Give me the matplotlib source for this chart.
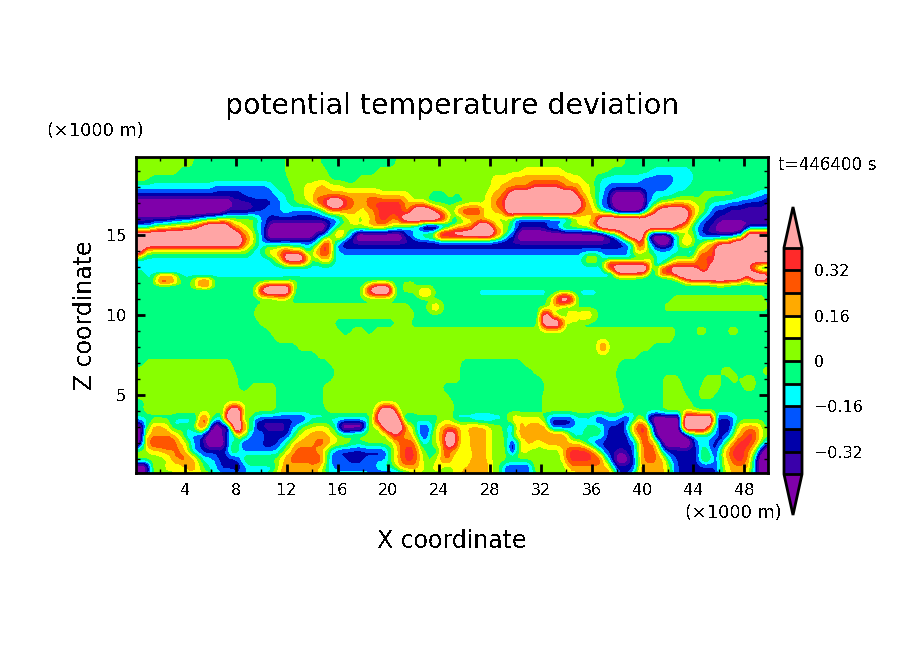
import numpy as np
import matplotlib
matplotlib.use("Agg")
import matplotlib.pyplot as plt

plt.rcParams['font.family'] = ['DejaVu Sans']
plt.rcParams['text.antialiased'] = False

LEVELS = [-0.40, -0.32, -0.24, -0.16, -0.08, 0.0, 0.08, 0.16, 0.24, 0.32, 0.40]
COLORS = ['#7f00aa', '#3a00aa', '#0000aa', '#0055ff', '#00ffff', '#00ff80',
          '#88ff00', '#ffff00', '#ffaa00', '#ff5500', '#ff2a2a', '#ffa5a5']
BAND_VALUE = dict(a=-0.58, b=-0.36, c=-0.28, d=-0.20, e=-0.12, f=-0.04,
                  g=0.04, h=0.12, i=0.20, j=0.28, k=0.36, l=0.62)
CBAR_TICKS = [-0.32, -0.16, 0, 0.16, 0.32]
CBAR_LABELS = ['\u22120.32', '\u22120.16', '0', '0.16', '0.32']
X_TICKS = list(range(4, 49, 4))
Z_TICKS = [5, 10, 15]

ROWS = [
 (20.0, "g4.6 f11.9 g14.6 f20.7 g38.7 f50"),
 (19.5, "g4.6 f11.9 g14.6 f20.7 g38.7 f50"),
 (19.0, "g3.3 f11.9 g15 f19.2 g30.5 h33.5 g37.3 f40.5 e43.8 f50"),
 (18.5, "g1.2 f12 g15.4 f17.5 g28.2 h29.5 i34 h35.2 g36.2 f36.6 e39.9 d42.5 e44 f50"),
 (18.0, "e6 d10.5 e11.2 f12.3 g13.3 h14.3 i15 h16.3 g28 h28.8 i31 k33.6 i35 h35.8 g36.2 f36.6 e37 d42 e43.5 f50"),
 (17.5, "c8.5 d11 e11.8 f12.5 g13.4 h14 i19 h21.5 g23 f24.7 g25 f25.7 g27.5 h28 i29.2 k29.7 l34.5 k34.9 i35.4 h35.8 g36.2 f36.5 e36.8 d37.2 c37.6 a40 c40.2 d40.8 e42.5 f44.5 g47.3 f48.5 e49.3 d50"),
 (17.0, "a7.5 b9.4 c10.8 d11.5 e12 f12.5 g13.6 h14 i14.4 k15 l16.4 k17 i18.3 k21 i21.5 h22.8 g23.2 f26 g27.5 h28 i28.7 k29.3 l35 k35.4 i35.8 h36 g36.4 e36.7 d37.1 c37.7 a40 c40.3 d40.7 e41 f41.4 g42 h44.2 g44.8 f45.4 e46.7 d47.8 c49.6 b50"),
 (16.5, "a7 b9.4 c10 d11.4 e12.3 d14.4 e14.8 g15 h15.3 i17.5 h18.3 i19 k21 i21.8 l23.3 k23.8 i24.3 h24.6 g25 i25.7 k27.3 h28 i29 k29.4 l34.5 k35 i36.2 h36.4 g36.6 e36.8 d37.3 c37.8 a39.8 c40.2 d40.4 e40.6 h40.9 k41.3 l43.3 k43.9 i44.2 h44.5 g44.8 f45 e45.3 d45.6 c46.5 b50"),
 (16.0, "b3 c4.6 d5.4 e6 f6.6 g9.6 e10.1 d10.4 c15.7 d16 e16.3 f16.6 g16.9 h17.3 g18 h18.5 i19 k20 i20.6 k21 l24.2 k24.5 i24.7 h24.9 f25.2 e25.5 f25.7 g26 h27.5 g29.5 e29.8 d30 c34 d34.3 e34.6 g35 h36 i36.3 k36.6 l39.8 k40 l43.3 k43.6 i43.9 h44.2 g44.4 e44.7 d45 c45.9 b50"),
 (15.5, "d1 e1.5 g2.5 h3.5 i4.5 k5.4 l7.3 k7.6 i8 h8.5 g9.4 e9.8 d10.1 c10.6 a15 c15.4 d15.8 e16.1 g17 h18.3 i19.5 h20 g20.6 f21.2 e21.6 d22 c22.5 a24 c24.6 e25 h26 i26.8 l28 i28.6 h29 g29.6 e30 d30.2 c32.4 d32.7 e33.5 h35.5 i36 k36.6 l42.4 k42.8 i43.2 h43.5 g43.8 e44.2 d44.5 c45 b45.8 a48 b50"),
 (15.0, "l8.2 k8.5 i9 h9.3 g9.6 e10 d10.2 c10.4 a14.2 c14.9 d15.1 e15.3 g15.6 h15.9 i16.1 k16.4 h16.7 e17 c17.4 a21.2 c21.5 d21.8 e22.1 g22.8 h23.4 i23.8 l28.2 k28.5 i28.8 h29 g29.2 e29.5 c30 a37.2 c37.5 d37.8 e38 g38.2 h38.4 i38.6 k38.8 l40 k40.1 e40.3 c40.5 a42 c42.3 d42.5 e42.8 g43.5 h43.8 g44 e44.4 d44.6 c45 b47 c47.5 d47.7 e48 h48.2 l50"),
 (14.5, "l8.3 k8.6 i9 h9.3 g9.6 e10 d14 e14.5 h14.8 k15.3 h15.6 e16 c16.4 b38.4 c38.7 d39 e39.3 h39.6 k40.2 h40.4 e40.6 c41 a42 c42.5 g43 i43.8 g44.2 e44.6 h45.3 i45.8 k47 l50"),
 (14.0, "l0.5 h1 g9 e10 g10.2 h10.7 i11.5 k12.2 i13 h13.3 e13.8 h14.4 k15.4 h15.7 e16.1 d39 h39.5 i40 g40.5 e43.5 d44 h44.7 i45.4 k45.8 l50"),
 (13.5, "e10.8 g11.2 h11.5 k11.9 l13.3 k13.6 h14 e14.4 h14.8 i15.3 h15.7 e35.3 h36.5 e40.4 h40.9 e42.3 g44 h44.3 k45.5 i45.9 l50"),
 (13.0, "e36.8 h37 l40.4 h40.8 e41.5 h42 k44.5 i45.3 l48 k48.3 h48.8 g49.2 f50"),
 (12.75, "e37.5 h37.9 l40.4 h40.7 e41 l44 k44.5 h45 l48.5 k48.8 h49.2 f50"),
 (12.5, "e0.1 h0.6 e37.8 h39.5 g40 e41.5 h42.5 l48 k48.5 l49.8 k50"),
 (12.25, "f1.6 k1.8 l3.1 k3.3 h3.5 f43 k43.5 l47.5 k47.8 h48.3 k48.7 l49.8 k50"),
 (12.0, "f1.8 g2.5 f4.6 k5 l5.8 k6 f12.2 h12.7 f45.5 h46.5 f50"),
 (11.75, "f9.6 h9.8 k10.3 l12 k12.4 h12.6 f18 h18.4 k18.8 l20 k20.2 h20.4 f21.3 k21.6 h22 f50"),
 (11.5, "f9.7 k10.2 l12.2 k12.4 f17.8 h18 k18.6 l20 k20.3 h20.4 f22 h22.5 k23 h23.5 f26.8 e36.7 f50"),
 (11.0, "f11.2 g12 f32.7 h33 k33.3 l34.3 k34.6 h34.9 f42.3 g49.6 f50"),
 (10.5, "f9.5 g21.5 f23.2 h23.7 i24 f32.6 h33.5 f41.7 g49.8 f50"),
 (10.0, "f9.3 g22 f31.8 h32.1 l32.6 h33 f33.8 h34.3 k34.6 h35.4 k35.7 h36.3 f50"),
 (9.5, "f9.8 g15.5 f20.5 g21.5 f31.8 h32 l33.6 h34 g35 f50"),
 (9.0, "f10.5 g16.2 f17 g18.2 f18.8 g42.5 f44 g45 f46.5 g47.5 f50"),
 (8.5, "f11 g42.3 f50"),
 (8.0, "f12.8 g36.6 k37.1 g40.5 f50"),
 (7.5, "f14.4 g39.6 f50"),
 (7.0, "f0.8 g7.5 f15.4 g25.6 f30.5 g38.2 f50"),
 (6.5, "g7.8 f15.9 g25.6 f31.3 g37.8 f46.2 g47 f49.4 g50"),
 (6.0, "g1.2 f1.7 g2.6 f3 g3.8 f4.4 g5.3 f5.6 g8 f15.7 g25.5 f32 g37.9 f41.5 g42.8 f44.8 g46.2 f46.8 g47.6 f47.9 g48.9 f50"),
 (5.5, "g8.2 f9.2 g11 f14.8 g24 f25 g25.2 f32.3 g38 f41.5 g43 f44.6 g46.2 f47.8 g48.8 f50"),
 (5.0, "g11.2 f14.8 g24.6 f32.2 g38.2 f41.5 g43.3 f44.4 g45.5 f50"),
 (4.5, "f0.8 g11.2 f14.9 g25 f32.2 g38.4 f41.5 g43.8 f50"),
 (4.0, "f0.5 g7.2 h7.4 l8.4 h8.6 g11 f15 g19 k19.3 l20.3 k20.6 g25 f32 g38.6 f41.5 g44 f50"),
 (3.5, "e1 f3 e5 h5.2 k5.6 h6 e7 l8.4 e8.8 i9 e9.4 d9.8 c13.5 e18.5 h18.7 i19.2 l20.8 h21 e22 f24 g25 e26.5 d28 e29 g29.5 i30 h32 e32.5 c34.5 e36 c37 e38 c39 e39.5 h40 c40.5 a43 l45.7 c47 e47.5 f50"),
 (3.0, "a0.7 e1 h1.3 i2.3 h2.8 e3.3 f4.5 h5 k5.6 e6 a6.8 e7 a7.5 l8.5 c8.8 k9.1 e9.3 c9.8 b12 d12.5 e13 g14 h15 g15.5 e16 a18 e18.4 g19 h19.5 l21 i21.5 h21.8 g22 e22.4 c22.8 e23 c23.4 e23.7 h24.2 i25.6 h26 i27.5 h28 g29 e29.5 c29.8 e30 k30.3 h30.8 i32.3 h32.6 c34 d34.6 e35.5 f36.5 e37 c38.5 d38.8 h39.4 k40.3 h40.6 c41 a42.8 c43.2 l45.2 h45.5 e45.8 c47 e47.4 h47.8 i49 h49.4 g49.7 f50"),
 (2.5, "a0.7 g1 h1.2 i3 h3.5 g3.9 e4.2 d5 c5.7 a7 e7.2 h7.4 c7.8 g8 h8.6 f9 c9.5 e10 c12 d12.3 e12.6 g13 h13.5 i15 h15.7 g16.2 f17 g20 k20.8 i21.7 h22.1 e22.5 c23 e23.3 g23.7 h24 i24.3 k24.7 l25 k25.3 i25.6 h25.8 g26 h26.3 i27.7 h28 g29 e29.5 g30 h30.2 i32 j33.8 h34.2 g34.4 e34.8 d35.2 f36.8 d37.2 c38.8 d39.2 h39.6 i39.9 k40.4 i40.6 e40.9 c41.2 a43.3 c43.8 e45.5 d45.9 c46.5 d47 e47.2 h47.6 i48 k48.8 i49.2 h49.6 g50"),
 (2.0, "a0.5 h1 i1.2 k3 i3.7 h4 g4.3 e4.7 d5.2 c5.7 a7 c7.3 e7.8 g8 e8.3 c9 e9.4 d9.8 c11.4 d11.7 e12 g12.4 h12.9 i14 j15 i15.7 h16.5 g17.2 f18 g20.6 j22 h22.4 e23 f23.5 h24 i24.3 k24.6 l25.1 k25.3 i25.6 h25.9 g26.1 h26.4 i27.6 h28.1 g29.3 c30.2 g30.6 h30.8 i31.3 h32.4 i34 h35.2 g35.4 e35.8 d36.2 c39.2 d39.5 h39.7 i40 j40.7 i41 h41.1 e41.4 c41.7 a43.8 c44.2 d44.4 e45.2 d45.4 c46 d46.3 e46.5 h47 i47.3 k48.6 i49 h49.3 e49.6 d50"),
 (1.5, "g1 h2 i3 j3.6 i3.9 h4.2 g4.4 e4.7 d5.2 c7 d7.3 e7.6 g8 e8.5 d11 e11.7 g12 h12.3 i12.7 j14.2 i14.7 h15 g15.2 e15.5 d15.8 c19.5 d19.9 e20.2 g20.5 h20.7 i21.1 k22 i22.3 h22.6 g22.8 f24 h24.1 i24.4 k24.7 i25 h25.8 g26.2 h26.5 i27.6 h28.1 g29.4 c30 g30.4 h30.8 g33.5 h33.7 i34 k35.8 i36 h36.3 g36.5 e36.7 d37 c37.8 b38.5 c39.2 d39.5 h39.7 i40 j41 i41.1 h41.3 e41.5 d41.8 c44.3 d44.5 e44.7 g45 e45.2 d45.5 c45.8 d46 e46.2 h46.6 i46.9 k48.2 i48.6 h48.8 e49 c49.3 a50"),
 (1.0, "g2.5 h2.8 i3.3 j4.4 i4.7 h5 g5.2 e6 d6.7 c8 d8.3 e8.6 g11.5 h11.7 i12 j14 k14.6 i15 h15.2 e15.4 d16.5 c18 d19.8 e20.2 g20.4 h20.7 i21 k22 i22.4 h22.7 g23 f23.5 h24 i24.4 k24.7 i25.1 h25.9 g26.2 h26.5 i27.7 h28.1 g33.5 h33.9 i34.2 k36.5 i36.9 h37 e37.2 d37.4 c37.8 a38.8 c39.4 d39.6 h39.8 i40 j41 i41.5 h41.8 e42.2 d42.5 c44.4 e44.6 g45.4 e45.6 d46 e46.2 g46.4 h46.6 i47 k48.1 i48.4 h48.6 e48.8 c49 a50"),
 (0.5, "a1 e1.3 g2.3 h3 g3.3 h4 i4.8 h5 g5.5 e6.7 c8.6 d8.9 e11.2 g11.4 h11.6 i14.4 h14.8 f15.2 e15.6 d18.8 e19.4 f20.5 h20.8 i22.4 h22.8 g23.4 h24 g25 h26 i27.9 h28.2 g28.8 d29.3 c31 d31.4 g31.6 h32 g34 i37.2 h37.5 e37.7 c39.4 d39.6 h39.8 i41.7 h42.1 e42.5 c45.6 d46 e46.2 g46.6 h46.9 i48.2 h48.5 e48.8 c49 a50"),
 (0.0, "b1 f1.5 g3 h5 g6 e7.5 d8.5 e10.5 g11 h11.4 i14.4 h14.8 g15.2 e18.6 c21 e21.6 g25 h25.6 i27.9 h28.2 g28.8 d29.6 e31.5 g34 h35 i37.5 h37.8 e38 c38.5 d39.4 h39.7 i41.6 h42 e42.5 c45.8 d46 g46.5 h47 i48.1 h48.4 e48.8 c49 a50"),
]

x_km = np.arange(0, 50.01, 0.25)
z_read = np.array([r[0] for r in ROWS])
z_km = np.arange(0, 20.01, 0.125)


def decode(runs):
    bands = [BAND_VALUE[p[0]] for p in runs.split()]
    ends = np.array([float(p[1:]) for p in runs.split()])
    idx = np.searchsorted(ends, x_km, side='left')
    return np.array(bands)[np.minimum(idx, len(bands) - 1)]


def soften(a, n, axis):
    # short box average: the run edges were read to about a pixel block
    k = np.ones(n) / n
    pad = [(n // 2, n // 2) if i == axis else (0, 0) for i in range(2)]
    a = np.pad(a, pad, mode='edge')
    return np.apply_along_axis(lambda v: np.convolve(v, k, mode='valid'), axis, a)


read = np.array([decode(r[1]) for r in ROWS])
field = np.array([np.interp(z_km, z_read[::-1], read[::-1, j]) for j in range(len(x_km))]).T
field = soften(soften(field, 3, 1), 5, 0)

W, H = 904, 654
fig = plt.figure(figsize=(W / 100, H / 100), dpi=100, facecolor='white')
L, R, T, B = 136, 768, 157, 473
ax = fig.add_axes([L / W, 1 - B / H, (R - L) / W, (B - T) / H])
cs = ax.contourf(x_km, z_km, field, levels=LEVELS, colors=COLORS, extend='both',
                 antialiased=False)
ax.set_xlim(0.125, 49.875)
ax.set_ylim(0.125, 19.875)

ax.set_xticks(X_TICKS)
ax.set_xticks(range(2, 50, 2), minor=True)
ax.set_yticks(Z_TICKS)
ax.set_yticks([z for z in range(1, 20) if z not in Z_TICKS], minor=True)
ax.tick_params(which='major', direction='in', length=6.5, width=2, top=True, right=True,
               labelsize=11.5, pad=7)
ax.tick_params(which='minor', direction='in', length=3, width=1, top=True, right=True)
for s in ax.spines.values():
    s.set_linewidth(2)


def put(px, py, s, **kw):
    fig.text(px / W, 1 - py / H, s, va='center', **kw)


put(452, 106, 'potential temperature deviation', ha='center', fontsize=20.4)
put(452, 541, 'X coordinate', ha='center', fontsize=17)
put(85, 315, 'Z coordinate', ha='center', rotation=90, fontsize=17)
put(47, 131, '(\u00d71000 m)', ha='left', fontsize=12.8)
put(685, 513, '(\u00d71000 m)', ha='left', fontsize=12.8)
put(778, 165, 't=446400 s', ha='left', fontsize=12.1)

cax = fig.add_axes([784 / W, 1 - 515 / H, 18 / W, 308 / H])
cb = fig.colorbar(cs, cax=cax, extend='both', extendfrac=0.18, drawedges=True,
                  ticks=CBAR_TICKS, spacing='uniform')
cb.ax.set_yticklabels(CBAR_LABELS, fontsize=11.5)
cb.ax.tick_params(length=0, pad=9)
cb.outline.set_linewidth(2)
cb.dividers.set_linewidth(2)

fig.savefig('out.png', dpi=100)
